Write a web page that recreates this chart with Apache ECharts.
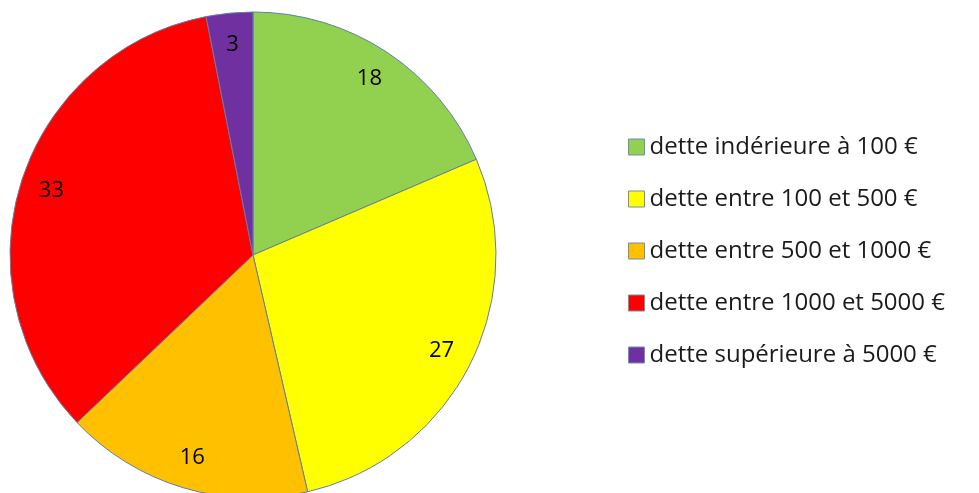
<!DOCTYPE html>
<html>
<head>
<meta charset="utf-8">
<script src="https://cdn.jsdelivr.net/npm/echarts@6/dist/echarts.min.js"></script>
<style>
  html, body { margin: 0; padding: 0; background: #fff; }
  #main { width: 979px; height: 493px; }
</style>
</head>
<body>
<div id="main"></div>
<script>
const categories = [
  "dette indérieure à 100 €",
  "dette entre 100 et 500 €",
  "dette entre 500 et 1000 €",
  "dette entre 1000 et 5000 €",
  "dette supérieure à 5000 €"
];
const values = [18, 27, 16, 33, 3];
const colors = ["#92d050", "#ffff00", "#ffc000", "#ff0000", "#7030a0"];

const chart = echarts.init(document.getElementById("main"));

const slices = categories.map((name, i) => ({
  name: name,
  value: values[i],
  itemStyle: { color: colors[i] }
}));

const font = "'Open Sans', sans-serif";

const option = {
  animation: false,
  legend: {
    orient: "vertical",
    left: 623,
    top: 130,
    itemWidth: 16,
    itemHeight: 16,
    itemGap: 28,
    icon: "rect",
    itemStyle: { borderColor: "#6f8fb5", borderWidth: 1 },
    textStyle: { fontFamily: font, fontSize: 24, color: "#1a1a1a", lineHeight: 24 },
    data: categories
  },
  series: [
    {
      type: "pie",
      center: [253, 255],
      radius: [0, 243],
      startAngle: 90,
      clockwise: true,
      label: { show: false },
      labelLine: { show: false },
      itemStyle: { borderColor: "#5f7fa8", borderWidth: 1 },
      data: slices
    },
    {
      // transparent ring used only to place the value labels near the rim
      type: "pie",
      center: [253, 255],
      radius: [174, 243],
      startAngle: 90,
      clockwise: true,
      silent: true,
      legendHoverLink: false,
      itemStyle: { color: "transparent", borderWidth: 0 },
      label: {
        show: true,
        position: "inside",
        formatter: "{c}",
        fontFamily: font,
        fontSize: 22,
        color: "#000"
      },
      labelLine: { show: false },
      data: categories.map((name, i) => ({ name: name + " ", value: values[i] }))
    }
  ]
};

chart.setOption(option);
</script>
</body>
</html>
